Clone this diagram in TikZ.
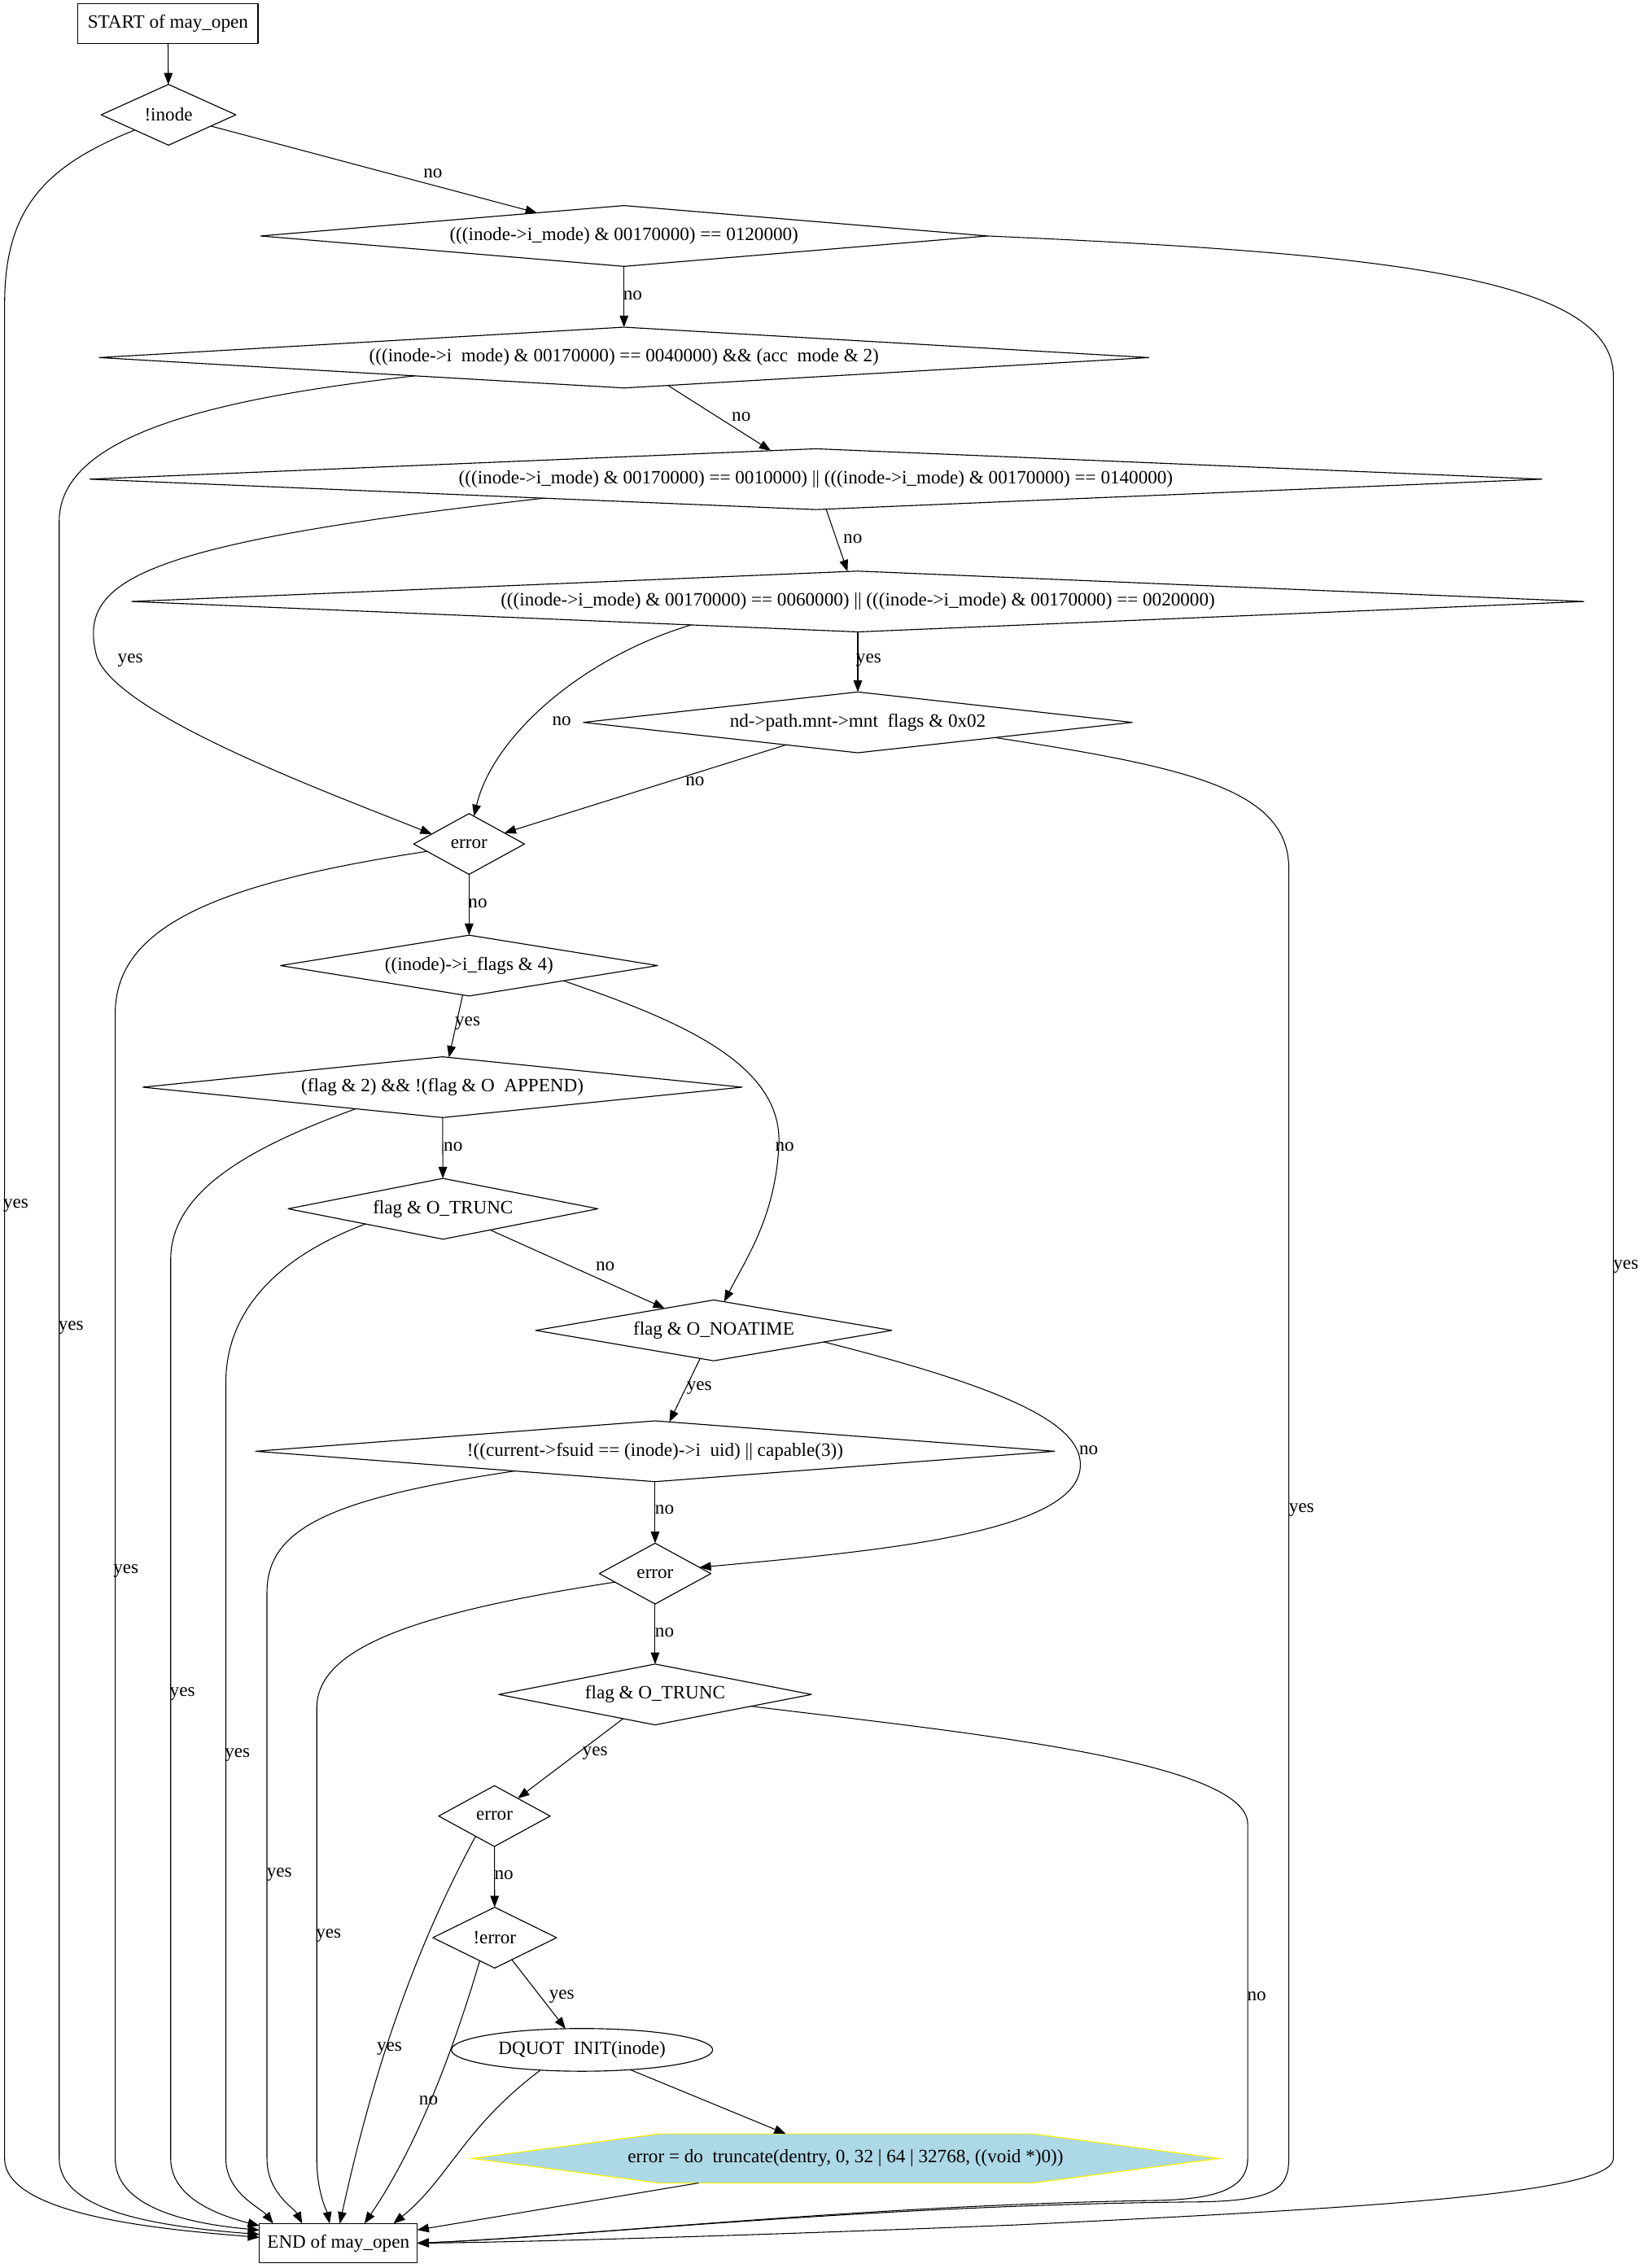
\documentclass[tikz,border=0pt]{standalone}
\usepackage{fontspec}
\setmainfont{Liberation Serif}
\usetikzlibrary{shapes.geometric,arrows.meta,backgrounds}
\definecolor{hexblue}{RGB}{173,216,230}
\newcommand{\ugap}{\hspace{.5em}}
\tikzset{
  box/.style={draw, rectangle, inner sep=1pt, outer sep=0pt, line width=.65pt},
  cond/.style={draw, diamond, inner sep=1pt, outer sep=0pt, minimum height=42pt, line width=.65pt},
  lab/.style={inner sep=0pt}
}
\begin{document}
\begin{tikzpicture}
			[x=1pt, y=-1pt, line join=round, line cap=round, line width=.6pt,
			>={Triangle[length=8pt,width=6pt]}, font=\fontsize{13}{15}\selectfont]
			\useasboundingbox (0,0) rectangle (1135,1566.7);
			% nodes
			\node[box, minimum width=124.4pt, minimum height=27.4pt] (start) at (116,16.3) {START of may\_open};
			\node[cond, minimum width=93pt, aspect=2.24] (inode) at (116.4,79.3) {!inode};
			\node[cond, minimum width=502pt, aspect=12.07] (c1) at (431,163) {(((inode->i\_mode) \& 00170000) == 0120000)};
			\node[cond, minimum width=725pt, aspect=17.47] (c2) at (431,247) {(((inode->i\ugap mode) \& 00170000) == 0040000) \&\& (acc\ugap mode \& 2)};
			\node[cond, minimum width=1003pt, aspect=23.88] (c3) at (563.5,331) {(((inode->i\_mode) \& 00170000) == 0010000) || (((inode->i\_mode) \& 00170000) == 0140000)};
			\node[cond, minimum width=1003pt, aspect=24.17] (c4) at (592.5,415.5) {(((inode->i\_mode) \& 00170000) == 0060000) || (((inode->i\_mode) \& 00170000) == 0020000)};
			\node[cond, minimum width=379pt, aspect=9.13] (c5) at (592.5,499) {nd->path.mnt->mnt\ugap flags \& 0x02};
			\node[cond, minimum width=76.5pt, aspect=1.82] (err1) at (324,583) {error};
			\node[cond, minimum width=260.5pt, aspect=6.2] (c6) at (324,667) {((inode)->i\_flags \& 4)};
			\node[cond, minimum width=414pt, aspect=9.86] (c7) at (305.6,751) {(flag \& 2) \&\& !(flag \& O\ugap APPEND)};
			\node[cond, minimum width=214pt, aspect=5.16] (c8) at (306,835) {flag \& O\_TRUNC};
			\node[cond, minimum width=246pt, aspect=5.86] (c9) at (493,919) {flag \& O\_NOATIME};
			\node[cond, minimum width=552pt, aspect=13.3] (c10) at (452.5,1002.5) {!((current->fsuid == (inode)->i\ugap uid) || capable(3))};
			\node[cond, minimum width=77pt, aspect=1.86] (err2) at (452.5,1087) {error};
			\node[cond, minimum width=216pt, aspect=5.14] (c11) at (452.5,1170.5) {flag \& O\_TRUNC};
			\node[cond, minimum width=77pt, aspect=1.83] (err3) at (341.5,1254.5) {error};
			\node[cond, minimum width=85.5pt, aspect=2.06] (nerr) at (341.7,1338.5) {!error};
			\node[draw, ellipse, inner sep=1pt, outer sep=0pt, minimum width=180.5pt, minimum height=29.5pt, line width=.65pt] (dq) at (402,1416) {DQUOT\ugap INIT(inode)};
			\node[inner sep=0pt, outer sep=0pt, minimum width=516pt, minimum height=34pt] (trunc) at (584,1491) {error = do\ugap truncate(dentry, 0, 32 | 64 | 32768, ((void *)0))};
			\begin{scope}[on background layer]
				\filldraw[draw=yellow, fill=hexblue, line width=.65pt] (trunc.west) -- ([xshift=129.5pt]trunc.north west) -- ([xshift=-129pt]trunc.north east)
				-- (trunc.east) -- ([xshift=-129pt]trunc.south east) -- ([xshift=129.5pt]trunc.south west) -- cycle;
			\end{scope}
			\node[box, minimum width=109pt, minimum height=27pt] (end) at (233.7,1549.5) {END of may\_open};
			% edges
			\draw[->] (start) -- (inode);
			\draw[->] (inode) -- (c1) node[lab] at (299,120) {no};
			\draw[->] (inode.south west) .. controls (30,115) and (3.2,145) .. (3.2,210) -- (3.2,1491)
				.. controls (3.2,1530) and (110,1540) .. ([yshift=4pt]end.west) node[lab] at (11,833) {yes};
			\draw[->] (c1) -- (c2) node[lab] at (437,204) {no};
			\draw[->] (c1.east) .. controls (950,175) and (1114.4,190) .. (1114.4,260) -- (1114.4,1491)
				.. controls (1114.4,1515) and (950,1525) .. (700,1537) .. controls (500,1545) and (350,1549) .. (end.east)
				node[lab] at (1123,875) {yes};
			\draw[->] (c2) -- (c3) node[lab] at (512,288) {no};
			\draw[->] (c2.185) .. controls (150,275) and (40.9,300) .. (40.9,360) -- (40.9,1491)
				.. controls (40.9,1528) and (110,1538) .. ([yshift=6pt]end.west) node[lab] at (49,917) {yes};
			\draw[->] (c3) -- (c4) node[lab] at (589,372) {no};
			\draw[->] (c3.184) .. controls (100,375) and (55,400) .. (66,450) .. controls (72,490) and (220,545) .. (err1.165)
				node[lab] at (90,456) {yes};
			\draw[->] (c4) -- (c5) node[lab] at (600,456) {yes};
			\draw[->] (c4.188) .. controls (400,455) and (340,510) .. (err1.80) node[lab] at (388,498) {no};
			\draw[->] (c5) -- (err1) node[lab] at (480,540) {no};
			\draw[->] (c5.south east) .. controls (820,530) and (890.2,545) .. (890.2,600) -- (890.2,1491)
				.. controls (890.2,1512) and (880,1520) .. (830,1521) .. controls (600,1523) and (400,1545) .. (end.east)
				node[lab] at (899,1043) {yes};
			\draw[->] (err1) -- (c6) node[lab] at (330,624) {no};
			\draw[->] (err1.190) .. controls (150,610) and (79.6,640) .. (79.6,700) -- (79.6,1491)
				.. controls (79.6,1525) and (130,1536) .. ([yshift=9pt]end.west) node[lab] at (87,1085) {yes};
			\draw[->] (c6) -- (c7) node[lab] at (323,707) {yes};
			\draw[->] (c6.south east) .. controls (470,705) and (540,735) .. (538,790) .. controls (536,840) and (515,870) .. (c9.70)
				node[lab] at (542,792) {no};
			\draw[->] (c7) -- (c8) node[lab] at (313,792) {no};
			\draw[->] (c7.194) .. controls (180,790) and (117.9,820) .. (117.9,870) -- (117.9,1491)
				.. controls (117.9,1518) and (150,1530) .. ([yshift=12pt]end.west) node[lab] at (126,1170) {yes};
			\draw[->] (c8) -- (c9) node[lab] at (418,875) {no};
			\draw[->] (c8.south west) .. controls (200,865) and (156,900) .. (156,955) -- (156,1491)
				.. controls (156,1515) and (180,1525) .. ([xshift=-45pt]end.north) node[lab] at (164,1212) {yes};
			\draw[->] (c9) -- (c10) node[lab] at (483,959) {yes};
			\draw[->] (c9.-6) .. controls (700,960) and (750,985) .. (746,1015) .. controls (740,1060) and (600,1072) .. (err2.8)
				node[lab] at (752,1002) {no};
			\draw[->] (c10) -- (err2) node[lab] at (459,1043) {no};
			\draw[->] (c10.188) .. controls (230,1035) and (184.4,1055) .. (184.4,1100) -- (184.4,1491)
				.. controls (184.4,1515) and (203,1525) .. ([xshift=-25pt]end.north) node[lab] at (193,1295) {yes};
			\draw[->] (err2) -- (c11) node[lab] at (459,1128) {no};
			\draw[->] (err2.192) .. controls (280,1115) and (218.8,1140) .. (218.8,1180) -- (218.8,1491)
				.. controls (218.8,1515) and (226,1528) .. ([xshift=-6pt]end.north) node[lab] at (227,1337) {yes};
			\draw[->] (c11) -- (err3) node[lab] at (411,1211) {yes};
			\draw[->] (c11.-7) .. controls (650,1195) and (861.8,1215) .. (861.8,1260) -- (861.8,1491)
				.. controls (861.8,1512) and (840,1519) .. (800,1520) .. controls (600,1523) and (400,1545) .. (end.east)
				node[lab] at (868,1379) {no};
			\draw[->] (err3) -- (nerr) node[lab] at (348,1295) {no};
			\draw[->] (err3.227) .. controls (290,1340) and (260,1420) .. ([xshift=1pt]end.north) node[lab] at (269,1415) {yes};
			\draw[->] (nerr) -- (dq) node[lab] at (388,1379) {yes};
			\draw[->] (nerr.237) .. controls (315,1410) and (290,1480) .. ([xshift=18pt]end.north) node[lab] at (296,1451) {no};
			\draw[->] (dq) -- (trunc);
			\draw[->] (dq.206) .. controls (320,1470) and (310,1505) .. ([xshift=38pt]end.north);
			\draw[->] (trunc) -- (end);
		\end{tikzpicture}
\end{document}
